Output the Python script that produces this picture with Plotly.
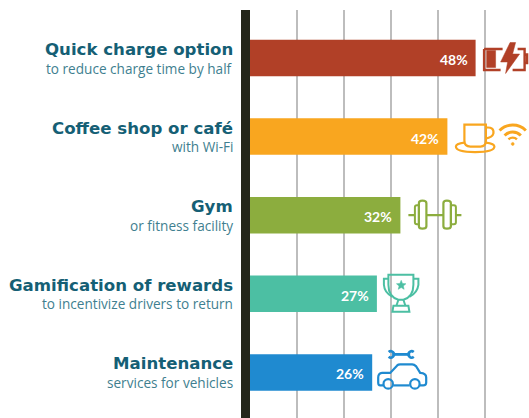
import math
import re
import plotly.graph_objects as go

categories = ["Quick charge option", "Coffee shop or café", "Gym",
              "Gamification of rewards", "Maintenance"]
subtitles = ["to reduce charge time by half", "with Wi-Fi", "or fitness facility",
             "to incentivize drivers to return", "services for vehicles"]
values = [48, 42, 32, 27, 26]
colors = ["#b14027", "#f9a61f", "#8cad3e", "#4cbfa3", "#1f8ad0"]
grid_ticks = [10, 20, 30, 40, 50]

W, H = 529, 418
L, T = 250, 10
PX_PER_UNIT = 4.7
ROW = 78.6
TOP_CENTER = 58

TITLE_COLOR = "#155f75"
SUB_COLOR = "#3f7f90"


def arc(cx, cy, r, a0, a1, move=True):
    n = max(1, math.ceil(abs(a1 - a0) / 90))
    step = math.radians(a1 - a0) / n
    k = 4 / 3 * math.tan(step / 4)
    a = math.radians(a0)
    parts = []
    if move:
        parts.append(f"M{cx+r*math.cos(a):.2f},{cy+r*math.sin(a):.2f}")
    for _ in range(n):
        b = a + step
        parts.append(
            f"C{cx+r*(math.cos(a)-k*math.sin(a)):.2f},{cy+r*(math.sin(a)+k*math.cos(a)):.2f} "
            f"{cx+r*(math.cos(b)+k*math.sin(b)):.2f},{cy+r*(math.sin(b)-k*math.cos(b)):.2f} "
            f"{cx+r*math.cos(b):.2f},{cy+r*math.sin(b):.2f}"
        )
        a = b
    return " ".join(parts)


def circle(cx, cy, r):
    return arc(cx, cy, r, 0, 360) + " Z"


def star(cx, cy, r):
    pts = []
    for k in range(10):
        rad = r if k % 2 == 0 else r * 0.45
        a = -math.pi / 2 + k * math.pi / 5
        pts.append(f"{cx+rad*math.cos(a):.2f},{cy+rad*math.sin(a):.2f}")
    return "M" + " L".join(pts) + " Z"


def flip(path):
    """Screen-style icon path -> plotly pixel-anchored path (y up)."""
    out = []
    for cmd, body in re.findall(r"([MLQCZ])([^MLQCZ]*)", path):
        n = [float(v) for v in re.findall(r"-?\d+\.?\d*", body)]
        n = [v if i % 2 == 0 else -v for i, v in enumerate(n)]
        out.append(cmd + " ".join(f"{v:g}" for v in n))
    return " ".join(out)


# (path, stroke width, filled?) in px relative to the bar's end and centre
icons = {
    0: [
        ("M8.5,-9 L27,-9 M8.5,-9 L8.5,12 L25,12 M42,-9 L49,-9 L49,12 L37,12 M49,-3.5 L51.5,-3.5 L51.5,5 L49,5", 2.4, False),
        ("M11,-7.5 L20,-7.5 L20,9.5 L11,9.5 Z", 0.5, True),
        ("M34.5,-15.5 L25,4 L32,4 L30,15.5 L44,-4 L37,-4 L40,-15.5 Z", 0.5, True),
    ],
    1: [
        ("M17,-12 L38.5,-12 L38.5,4 Q38.5,10 33,10 L23,10 Q17,10 17,4 Z", 2.2, False),
        ("M38.5,-9 Q47,-10 46,-3 Q45,1 38,2", 2.2, False),
        ("M17,6 Q8.5,7 8.5,10 Q8.5,15.5 27.7,15.5 Q47,15.5 47,10 Q47,7 38.5,6", 2.2, False),
        (arc(65.3, 7, 18.6, -135, -45), 3, False),
        (arc(65.3, 7, 11.5, -135, -45), 3, False),
        (arc(65.3, 7, 6, -135, -45), 2.4, False),
        (circle(65.3, 7.3, 1.5), 0.5, True),
    ],
    2: [
        ("M8,0 L14.5,0 M26,0 L43,0 M55.5,0 L61,0", 2.2, False),
        ("M14.5,-8 Q14.5,-10 16.5,-10 L18.5,-10 L18.5,9 L16.5,9 Q14.5,9 14.5,7 Z", 2, False),
        ("M18.5,-12 Q18.5,-14.5 22,-14.5 Q26,-14.5 26,-12 L26,11 Q26,13.5 22,13.5 Q18.5,13.5 18.5,11 Z", 2.2, False),
        ("M43,-12 Q43,-14.5 46.5,-14.5 Q50.5,-14.5 50.5,-12 L50.5,11 Q50.5,13.5 46.5,13.5 Q43,13.5 43,11 Z", 2.2, False),
        ("M50.5,-10 L53.5,-10 Q55.5,-10 55.5,-8 L55.5,7 Q55.5,9 53.5,9 L50.5,9 Z", 2, False),
    ],
    3: [
        ("M11.5,-19 L36.5,-19 L36.5,-9 Q36.5,3 26.5,6 L21.5,6 Q11.5,3 11.5,-9 Z", 2, False),
        ("M21.5,6 L19.5,12 M26.5,6 L28.5,12", 2, False),
        ("M16.5,12 L31.5,12 L32.5,18 L15.5,18 Z", 2, False),
        ("M11.5,-15 L7,-15 L7,-9 Q7.5,-1 15.5,3 M36.5,-15 L41.5,-15 L41.5,-9 Q40.5,-1 32.5,3", 2, False),
        (star(24.3, -8.5, 5), 0.5, True),
    ],
    4: [
        ("M11,13 L8,13 Q6,13 6,10 L6,5 Q6,1 10,0.5 L18,0.5 L25,-7 Q26,-8 28,-8 L40,-8 Q42,-8 44,-6 L48,0.5 Q54,1 54,5 L54,10 Q54,13 51,13 L47.5,13", 2.2, False),
        ("M21,13 L37.5,13", 2.2, False),
        (circle(16, 11.5, 4.7), 2.2, False),
        (circle(42.7, 11.5, 4.7), 2.2, False),
        ("M20,-18 L38,-18", 2.8, False),
        (arc(18.5, -18, 3.2, -130, 130), 2.6, False),
        (arc(39.5, -18, 3.2, -50, -310), 2.6, False),
    ],
}

fig = go.Figure(go.Bar(
    x=values,
    y=categories,
    orientation="h",
    width=0.464,
    marker=dict(color=colors, line=dict(width=0)),
    hoverinfo="skip",
))

annotations = []
for cat, sub, val in zip(categories, subtitles, values):
    annotations.append(dict(
        x=0, y=cat, xref="x", yref="y", xanchor="right", yanchor="middle",
        xshift=-15.5, yshift=8.5, showarrow=False, text=f"<b>{cat}</b>",
        font=dict(family="DejaVu Sans", size=16.6, color=TITLE_COLOR),
    ))
    annotations.append(dict(
        x=0, y=cat, xref="x", yref="y", xanchor="right", yanchor="middle",
        xshift=-15.5, yshift=-10, showarrow=False, text=sub,
        font=dict(family="Open Sans", size=13.6, color=SUB_COLOR),
    ))
    annotations.append(dict(
        x=val, y=cat, xref="x", yref="y", xanchor="right", yanchor="middle",
        xshift=-6, yshift=-1.5, showarrow=False, text=f"<b>{val}%</b>",
        font=dict(family="Lato", size=14, color="white"),
    ))

shapes = []
for idx, items in icons.items():
    color = colors[idx]
    for path, lw, filled in items:
        shapes.append(dict(
            type="path", layer="above",
            xref="x", yref="y",
            xsizemode="pixel", ysizemode="pixel",
            xanchor=values[idx], yanchor=categories[idx],
            path=flip(path),
            line=dict(color=color, width=lw),
            fillcolor=color if filled else "rgba(0,0,0,0)",
        ))

x_max = (W - L) / PX_PER_UNIT
y_top = (T - TOP_CENTER) / ROW
y_bottom = (H - TOP_CENTER) / ROW

fig.update_layout(
    width=W, height=H,
    margin=dict(l=L, r=0, t=T, b=0, pad=0),
    paper_bgcolor="white",
    plot_bgcolor="white",
    showlegend=False,
    annotations=annotations,
    shapes=shapes,
    xaxis=dict(
        range=[0, x_max], tickvals=grid_ticks, showticklabels=False, ticks="",
        showgrid=True, gridcolor="#bdbdbd", gridwidth=1.5, zeroline=False,
        showline=False,
    ),
    yaxis=dict(
        type="category", categoryorder="array", categoryarray=categories,
        range=[y_bottom, y_top], showticklabels=False, ticks="", showgrid=False,
        zeroline=False, showline=True, linecolor="#24261a", linewidth=9,
    ),
)

# remove the page's default body margin so the 529x418 figure fills the window
fig.write_html(
    "out.html",
    config={"displayModeBar": False},
    post_script="document.body.style.margin='0';document.documentElement.style.overflow='hidden';",
)
